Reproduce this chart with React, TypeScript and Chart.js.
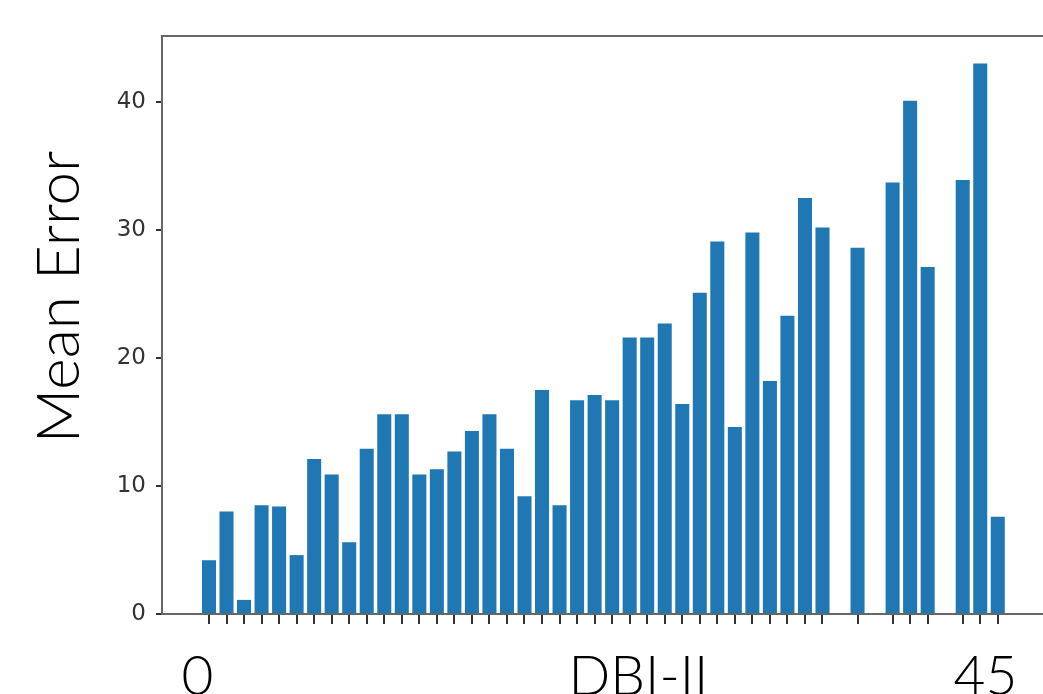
import { useEffect, useRef } from 'react';
import { Chart, registerables } from 'chart.js';

Chart.register(...registerables);

// sample index (x) of each bar that is present; 36, 38 and 42 have no bar
const positions = [
  0, 1, 2, 3, 4, 5, 6, 7, 8, 9, 10, 11, 12, 13, 14, 15, 16, 17, 18, 19, 20, 21, 22,
  23, 24, 25, 26, 27, 28, 29, 30, 31, 32, 33, 34, 35, 37, 39, 40, 41, 43, 44, 45,
];
const meanError = [
  4.2, 8.0, 1.1, 8.5, 8.4, 4.6, 12.1, 10.9, 5.6, 12.9, 15.6, 15.6, 10.9, 11.3, 12.7,
  14.3, 15.6, 12.9, 9.2, 17.5, 8.5, 16.7, 17.1, 16.7, 21.6, 21.6, 22.7, 16.4, 25.1,
  29.1, 14.6, 29.8, 18.2, 23.3, 32.5, 30.2, 28.6, 33.7, 40.1, 27.1, 33.9, 43.0, 7.6,
];
const yTickValues = [0, 10, 20, 30, 40];
const bottomLabels = ['0', 'DBI-II', '45'];
const yTitle = 'Mean Error';

const TITLE_FONT = 'Lato';

const overlayPlugin = {
  id: 'overlay',
  afterDraw(chart: any) {
    const { ctx, chartArea, scales } = chart;
    ctx.save();
    // top spine
    ctx.strokeStyle = '#666';
    ctx.lineWidth = 2;
    ctx.beginPath();
    ctx.moveTo(chartArea.left, chartArea.top);
    ctx.lineTo(chartArea.right, chartArea.top);
    ctx.stroke();

    // y-axis title (slide-style, large, light)
    const tSize = 60;
    ctx.font = `300 ${tSize}px ${TITLE_FONT}`;
    ctx.fillStyle = '#000';
    ctx.textAlign = 'center';
    ctx.textBaseline = 'alphabetic';
    ctx.save();
    ctx.translate(79, (chartArea.top + chartArea.bottom) / 2 - 28);
    ctx.rotate(-Math.PI / 2);
    ctx.fillText(yTitle, 0, 0);
    ctx.restore();

    // big slide labels under the axis
    const size = 55;
    ctx.font = `300 ${size}px ${TITLE_FONT}`;
    const anchors = [-0.66, 24.5, 44.3];
    const baseline = chartArea.bottom + 41 + size * 0.72;
    bottomLabels.forEach((t, i) => {
      ctx.fillText(t, scales.x.getPixelForValue(anchors[i]), baseline);
    });
    ctx.restore();
  },
};

export default function App() {
  const ref = useRef<HTMLCanvasElement | null>(null);

  useEffect(() => {
    if (!ref.current) return;
    const points = positions.map((x, i) => ({ x, y: meanError[i] }));
    const chart = new Chart(ref.current, {
      type: 'bar',
      data: {
        datasets: [
          {
            data: points as any,
            backgroundColor: '#1f77b4',
            borderWidth: 0,
            barPercentage: 0.8,
            categoryPercentage: 1,
          },
        ],
      },
      options: {
        animation: false,
        responsive: true,
        maintainAspectRatio: false,
        layout: { padding: { left: 0, top: 36, right: 0, bottom: 70 } },
        plugins: { legend: { display: false }, tooltip: { enabled: false } },
        scales: {
          x: {
            type: 'linear',
            offset: false,
            min: -2.68,
            max: 47.58,
            afterBuildTicks: (axis: any) => {
              axis.ticks = positions.map((v) => ({ value: v }));
            },
            ticks: { display: false },
            grid: {
              display: true,
              offset: false,
              drawOnChartArea: false,
              drawTicks: true,
              tickLength: 10,
              tickColor: '#333',
              lineWidth: 2,
            },
            border: { display: true, color: '#666', width: 2 },
          },
          y: {
            type: 'linear',
            min: 0,
            max: 45.15,
            afterBuildTicks: (axis: any) => {
              axis.ticks = yTickValues.map((v) => ({ value: v }));
            },
            afterFit: (axis: any) => {
              axis.width = 162;
            },
            ticks: {
              color: '#333',
              padding: 10,
              font: { family: 'DejaVu Sans', size: 23 },
            },
            grid: {
              display: true,
              drawOnChartArea: false,
              drawTicks: true,
              tickLength: 6,
              tickColor: '#333',
              lineWidth: 2,
            },
            border: { display: true, color: '#666', width: 2 },
          },
        },
      },
      plugins: [overlayPlugin],
    });
    return () => chart.destroy();
  }, []);

  return (
    <div
      style={{
        position: 'fixed',
        left: 0,
        top: 0,
        width: 1043,
        height: 694,
        overflow: 'hidden',
        background: '#fff',
      }}
    >
      <canvas ref={ref} />
    </div>
  );
}
